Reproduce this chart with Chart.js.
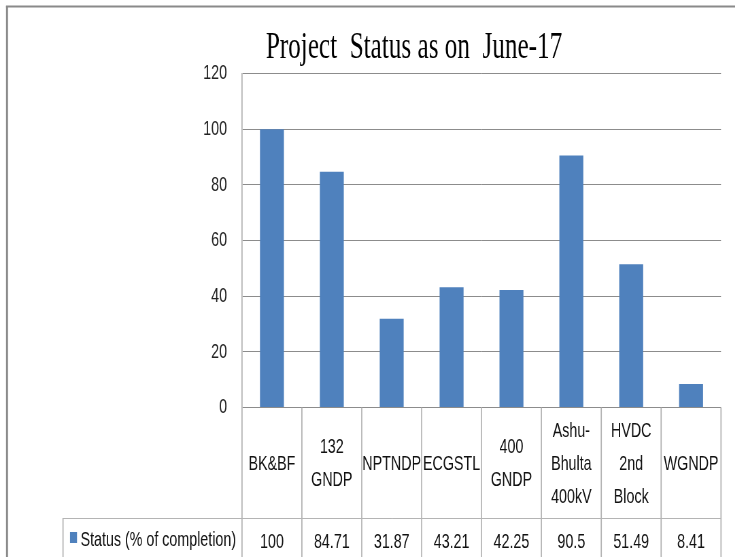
<!DOCTYPE html>
<html>
<head>
<meta charset="utf-8">
<script src="https://cdn.jsdelivr.net/npm/chart.js@4/dist/chart.umd.min.js"></script>
<style>
  html, body { margin: 0; padding: 0; background: #fff; overflow: hidden; }
  #wrap { width: 1081px; height: 557px; transform: scaleX(0.68); transform-origin: 0 0; }
</style>
</head>
<body>
<div id="wrap"><canvas id="chart" width="1081" height="557"></canvas></div>
<script>
// data
const categories = [
  ["BK&BF"],
  ["132", "GNDP"],
  ["NPTNDP"],
  ["ECGSTL"],
  ["400", "GNDP"],
  ["Ashu-", "Bhulta", "400kV"],
  ["HVDC", "2nd", "Block"],
  ["WGNDP"]
];
const completion = [100, 84.71, 31.87, 43.21, 42.25, 90.5, 51.49, 8.41];
const seriesName = "Status (% of completion)";
const titleText = "Project  Status as on  June-17";
const yTicks = [0, 20, 40, 60, 80, 100, 120];

const S = 0.68;               // horizontal squeeze of the whole picture
const px = (v) => v / S;      // final px -> canvas px (x only)
const BLUE = "#4F81BD";
const LINE = "#b4b4b4";
const FONT = "'Liberation Sans', Arial, sans-serif";

// frame, title and the data table under the plot
const extras = {
  id: "extras",
  afterDraw(chart) {
    const { ctx, chartArea: a, width: W, height: H } = chart;
    const xs = chart.scales.x;
    ctx.save();

    // outer frame (top + left)
    ctx.strokeStyle = "#8a8a8a";
    ctx.lineWidth = 2;
    ctx.beginPath(); ctx.moveTo(px(6), 6.5); ctx.lineTo(W, 6.5); ctx.stroke();
    ctx.lineWidth = px(2);
    ctx.beginPath(); ctx.moveTo(px(7), 6); ctx.lineTo(px(7), H); ctx.stroke();

    // title
    ctx.fillStyle = "#000";
    ctx.font = "37px 'Liberation Serif', 'Times New Roman', serif";
    ctx.textAlign = "center";
    ctx.textBaseline = "alphabetic";
    ctx.fillText(titleText, px(414), 58);

    // table grid
    const n = categories.length;
    const cw = (a.right - a.left) / n;
    const rowY = 518;
    ctx.strokeStyle = LINE;
    ctx.lineWidth = px(1.2);
    for (let i = 0; i <= n; i++) {
      const x = a.left + i * cw;
      ctx.beginPath(); ctx.moveTo(x, a.bottom); ctx.lineTo(x, H); ctx.stroke();
    }
    ctx.beginPath(); ctx.moveTo(px(63), rowY); ctx.lineTo(px(63), H); ctx.stroke();
    ctx.lineWidth = 1;
    ctx.beginPath(); ctx.moveTo(px(63), rowY + 0.5); ctx.lineTo(a.right, rowY + 0.5); ctx.stroke();

    // category labels and values
    ctx.fillStyle = "#111";
    ctx.font = "21px " + FONT;
    ctx.textAlign = "center";
    ctx.textBaseline = "middle";
    const lh = 33;
    categories.forEach((lines, i) => {
      const cx = xs.getPixelForValue(i);
      const y0 = 464 - (lines.length - 1) * lh / 2;
      lines.forEach((t, k) => ctx.fillText(t, cx, y0 + k * lh));
      ctx.fillText(String(completion[i]), cx, 542);
    });

    // legend key inside the table
    ctx.fillStyle = BLUE;
    ctx.fillRect(px(70), 532, px(7), 11);
    ctx.fillStyle = "#111";
    ctx.textAlign = "left";
    ctx.fillText(seriesName, px(80.5), 540);

    ctx.restore();
  }
};

new Chart(document.getElementById("chart"), {
  type: "bar",
  data: {
    labels: categories,
    datasets: [{
      label: seriesName,
      data: completion,
      backgroundColor: BLUE,
      borderWidth: 0,
      barPercentage: 0.4,
      categoryPercentage: 1
    }]
  },
  options: {
    responsive: false,
    animation: false,
    devicePixelRatio: 1,
    layout: { padding: { top: 73.5, bottom: 149.5, left: 0, right: 1081 - px(721) } },
    plugins: { legend: { display: false }, tooltip: { enabled: false }, title: { display: false } },
    scales: {
      x: { display: false },
      y: {
        min: 0, max: 120,
        afterFit: (s) => { s.width = px(242); },
        afterBuildTicks: (s) => { s.ticks = yTicks.map(v => ({ value: v })); },
        ticks: { padding: px(242) - px(227), color: "#222", font: { family: FONT, size: 21 } },
        grid: { color: "#8c8c8c", lineWidth: 1, drawTicks: false },
        border: { display: true, color: LINE, width: px(1.2) }
      }
    }
  },
  plugins: [extras]
});
</script>
</body>
</html>
